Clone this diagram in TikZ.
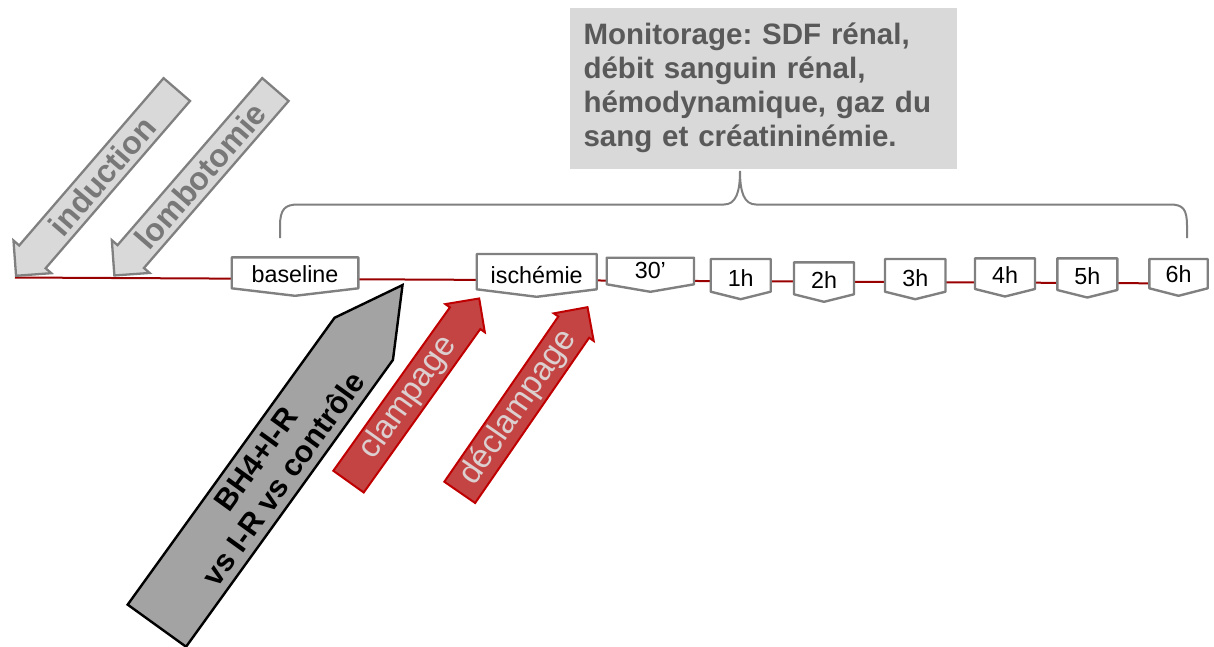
\documentclass[tikz,border=0pt]{standalone}
\usepackage{fontspec}
\setmainfont{Liberation Sans}
\frenchspacing
\usetikzlibrary{shapes.arrows}

% timeline tab: name, left, right, top, side bottom, label
\newcommand\tlbox[6]{%
  \draw[tab] (#2,#4) -- (#3,#4) -- (#3,#5) -- ({(#2+#3)/2},{#5+7.5}) -- (#2,#5) -- cycle;
  \node[tabtext] (#1) at ({(#2+#3)/2},{#5-5.5}) {#6};}

\begin{document}
\begin{tikzpicture}[x=1pt, y=-1pt,
  tab/.style={draw=LineGray, fill=white, line width=2.4pt, line join=round},
  tabtext/.style={anchor=base, inner sep=0pt, font=\fontsize{23.3pt}{27pt}\selectfont},
  timeline/.style={draw=TimeRed, line width=2pt},
  grayarrow/.style={single arrow, shape border rotate=180, draw=LineGray, fill=PaleGray, line width=2.3pt,
    minimum width=50, single arrow head extend=6, single arrow tip angle=90, minimum height=246,
    inner sep=1pt, text=ArrowText, font=\fontsize{32pt}{36pt}\selectfont\bfseries},
  redarrow/.style={single arrow, draw=RedEdge, fill=RedFill, line width=2pt,
    minimum width=48.5, single arrow head extend=5.2, single arrow tip angle=90, minimum height=225,
    inner sep=1pt, text=RedText, font=\fontsize{33pt}{36pt}\selectfont},
  grouparrow/.style={single arrow, draw=black, fill=MidGray, line width=2.4pt,
    minimum width=72, single arrow head extend=0, single arrow tip angle=57, minimum height=420,
    inner sep=1pt, align=center, font=\fontsize{30.5pt}{34pt}\selectfont\bfseries}]
\definecolor{LineGray}{HTML}{808080}\definecolor{PaleGray}{HTML}{D9D9D9}\definecolor{MidGray}{HTML}{A3A3A3}
\definecolor{ArrowText}{HTML}{787878}
\definecolor{TimeRed}{HTML}{990000}\definecolor{RedFill}{HTML}{C44444}\definecolor{RedEdge}{HTML}{C00000}
\definecolor{RedText}{HTML}{DCCFCF}\definecolor{MonText}{HTML}{595959}
\useasboundingbox (0,0) rectangle (1214,646);

% time axis
\coordinate (t0) at (15,277.5); \coordinate (t1) at (1150,283.3);
\draw[timeline] (t0) -- (t1);

% before baseline
\node[grayarrow, rotate=49.2, anchor=tip] (induction) at (15,277) {induction};
\node[grayarrow, rotate=49.1, anchor=tip] (lombotomie) at (113.3,276.7) {lombotomie};

% tabs
\tlbox{baseline}{231.7}{358.3}{257.3}{288.3}{baseline}
\tlbox{ischemie}{476.7}{596.7}{254}{289.3}{ischémie}
\tlbox{m30}{606.7}{694}{257.7}{284.3}{30’}
\tlbox{h1}{710.7}{770.7}{259}{291.7}{1h}
\tlbox{h2}{794}{854}{262.3}{294.3}{2h}
\tlbox{h3}{885}{945.5}{259}{291.7}{3h}
\tlbox{h4}{975}{1035}{258.3}{289}{4h}
\tlbox{h5}{1057.3}{1117.3}{258.3}{290}{5h}
\tlbox{h6}{1149.3}{1207.7}{259}{288.3}{6h}

% groups and clamps
\node[grouparrow, rotate=54.2, anchor=tip] (groups) at (404,283)
  {\hspace*{32pt}BH4+I-R\\\hspace*{32pt}vs I-R vs contrôle};
\node[redarrow, rotate=54.5, anchor=tip] (clampage) at (480,297.3) {clampage};
\node[redarrow, rotate=55.4, anchor=tip] (declampage) at (588.3,306) {déclampage};

% monitoring brace
\draw[LineGray, line width=2pt] (280,238) -- (280,226) .. controls (280,209) and (285,204.5) .. (298,204.5)
  -- (724,204.5) .. controls (736,204.5) and (740,192) .. (740,171)
  .. controls (740,192) and (744,204.5) .. (756,204.5) -- (1170,204.5)
  .. controls (1183,204.5) and (1187,209) .. (1187,226) -- (1187,238);
\node[fill=PaleGray, anchor=north west, minimum width=386.7, minimum height=161, inner xsep=13.3,
  text width=360, align=left, text=MonText, font=\fontsize{29.5pt}{34pt}\selectfont\bfseries]
  (monitor) at (570,7.3) {Monitorage: SDF rénal,\\débit sanguin rénal,\\hémodynamique, gaz du\\sang et créatininémie.};
\end{tikzpicture}
\end{document}
